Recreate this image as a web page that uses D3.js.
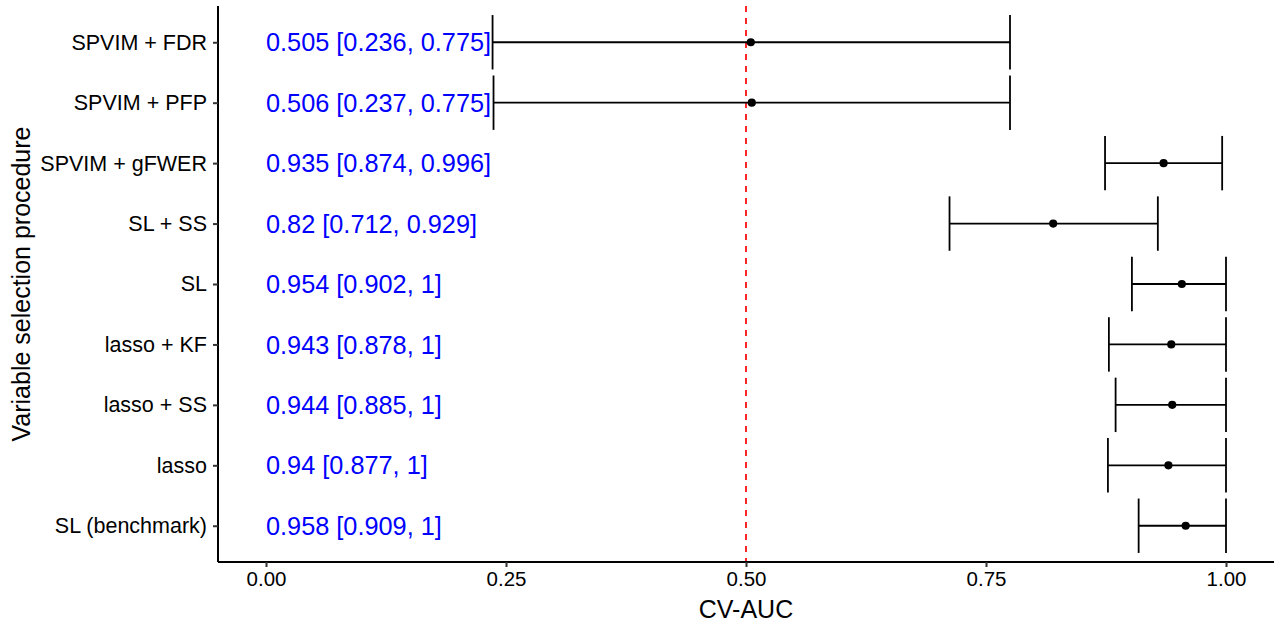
<!DOCTYPE html>
<html>
<head>
<meta charset="utf-8">
<script src="https://cdn.jsdelivr.net/npm/d3@7"></script>
<style>
  html, body { margin: 0; padding: 0; background: #fff; }
  svg { display: block; font-family: "Liberation Sans", Arial, sans-serif; }
</style>
</head>
<body>
<svg id="chart" width="1278" height="626"></svg>
<script>
// Variable selection procedures, top to bottom
const procedures = [
  "SPVIM + FDR", "SPVIM + PFP", "SPVIM + gFWER", "SL + SS", "SL",
  "lasso + KF", "lasso + SS", "lasso", "SL (benchmark)"
];
// Cross-validated AUC point estimates and 95% interval bounds
const auc   = [0.505, 0.506, 0.935, 0.82,  0.954, 0.943, 0.944, 0.94,  0.958];
const lower = [0.236, 0.237, 0.874, 0.712, 0.902, 0.878, 0.885, 0.877, 0.909];
const upper = [0.775, 0.775, 0.996, 0.929, 1,     1,     1,     1,     1];
// Text shown beside each row
const labels = [
  "0.505 [0.236, 0.775]", "0.506 [0.237, 0.775]", "0.935 [0.874, 0.996]",
  "0.82 [0.712, 0.929]", "0.954 [0.902, 1]", "0.943 [0.878, 1]",
  "0.944 [0.885, 1]", "0.94 [0.877, 1]", "0.958 [0.909, 1]"
];
const xTicks = [0, 0.25, 0.5, 0.75, 1];
const refLine = 0.5;

const svg = d3.select("#chart");
const panel = { left: 218, right: 1274, top: 6, bottom: 562 };

const x = d3.scaleLinear().domain([-0.05, 1.05]).range([panel.left, panel.right]);
const y = d3.scalePoint().domain(procedures)
  .range([panel.top, panel.bottom]).padding(0.6);
const step = y.step();
const capHalf = step * 0.45;

const rows = procedures.map((p, i) => ({
  name: p, est: auc[i], lo: lower[i], hi: upper[i], label: labels[i]
}));

const g = svg.append("g");

// reference line at chance level
g.append("line")
  .attr("x1", x(refLine)).attr("x2", x(refLine))
  .attr("y1", panel.top).attr("y2", panel.bottom)
  .attr("stroke", "#ff0000").attr("stroke-width", 1.7)
  .attr("stroke-dasharray", "6,6");

// estimate labels
g.selectAll("text.est").data(rows).join("text")
  .attr("class", "est")
  .attr("x", x(0)).attr("y", d => y(d.name))
  .attr("dy", "0.36em")
  .attr("fill", "#0000ff")
  .attr("font-size", 25.3)
  .text(d => d.label);

// error bars
const bars = g.selectAll("g.bar").data(rows).join("g").attr("class", "bar");
bars.append("line")
  .attr("x1", d => x(d.lo)).attr("x2", d => x(d.hi))
  .attr("y1", d => y(d.name)).attr("y2", d => y(d.name));
bars.append("line")
  .attr("x1", d => x(d.lo)).attr("x2", d => x(d.lo))
  .attr("y1", d => y(d.name) - capHalf).attr("y2", d => y(d.name) + capHalf);
bars.append("line")
  .attr("x1", d => x(d.hi)).attr("x2", d => x(d.hi))
  .attr("y1", d => y(d.name) - capHalf).attr("y2", d => y(d.name) + capHalf);
bars.selectAll("line").attr("stroke", "#000").attr("stroke-width", 1.8);
bars.append("circle")
  .attr("cx", d => x(d.est)).attr("cy", d => y(d.name))
  .attr("r", 4.1).attr("fill", "#000");

// axes
const xAxis = d3.axisBottom(x).tickValues(xTicks)
  .tickFormat(d3.format(".2f")).tickSizeInner(5).tickSizeOuter(0).tickPadding(4);
const yAxis = d3.axisLeft(y).tickSizeInner(5).tickSizeOuter(0).tickPadding(6);

const gx = svg.append("g").attr("transform", `translate(0,${panel.bottom})`).call(xAxis);
const gy = svg.append("g").attr("transform", `translate(${panel.left},0)`).call(yAxis);

[gx, gy].forEach(a => {
  a.select(".domain").attr("stroke", "#000").attr("stroke-width", 2);
  a.selectAll(".tick line").attr("stroke", "#333").attr("stroke-width", 2);
  a.selectAll(".tick text").attr("fill", "#000")
    .attr("font-family", "Liberation Sans, Arial, sans-serif");
});
gx.selectAll(".tick text").attr("font-size", 20.5);
gy.selectAll(".tick text").attr("font-size", 21.5);
gx.select(".domain").attr("d", `M${panel.left},0H${panel.right}`);
gy.select(".domain").attr("d", `M0,${panel.top}V${panel.bottom}`);

// axis titles
svg.append("text")
  .attr("x", (panel.left + panel.right) / 2).attr("y", 618)
  .attr("text-anchor", "middle").attr("font-size", 25)
  .text("CV-AUC");
svg.append("text")
  .attr("transform", `translate(30,${(panel.top + panel.bottom) / 2}) rotate(-90)`)
  .attr("text-anchor", "middle").attr("font-size", 25)
  .text("Variable selection procedure");
</script>
</body>
</html>
